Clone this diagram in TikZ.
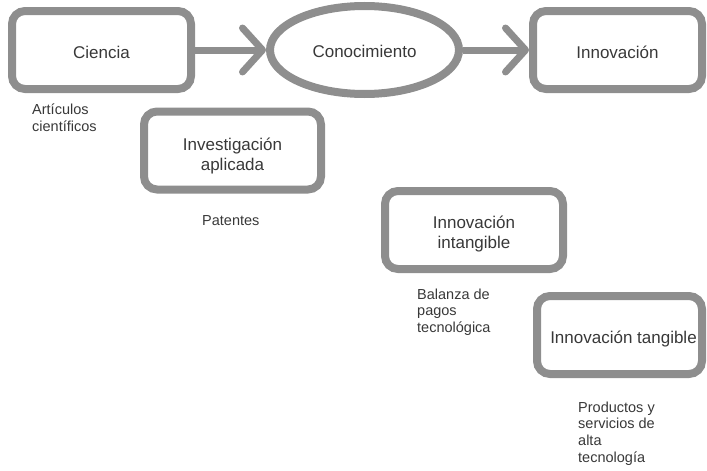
\documentclass[tikz,border=0pt]{standalone}
\usepackage{fontspec}
\setmainfont{Liberation Sans}
\usetikzlibrary{shapes.geometric,arrows.meta}
\definecolor{linegray}{HTML}{8E8E8E}
\definecolor{txt}{HTML}{383838}
\newcommand{\oneline}[2]{\raisebox{-#1pt}[0pt][0pt]{#2}}
\newcommand{\twolines}[3]{\raisebox{#1pt}[0pt][0pt]{\begin{tabular}[t]{@{}c@{}}#2\\#3\end{tabular}}}
\newcommand{\lines}[1]{\begin{tabular}[t]{@{}l@{}}#1\end{tabular}}
\tikzset{
  box/.style={draw=linegray, line width=8pt, rounded corners=13pt, inner sep=0pt,
    minimum height=78pt, text=txt, font=\fontsize{17}{20}\selectfont},
  oval/.style={ellipse, draw=linegray, line width=8pt, inner sep=0pt,
    minimum width=189pt, minimum height=88pt, text=txt, font=\fontsize{17}{20}\selectfont},
  lbl/.style={anchor=base west, inner sep=0pt, text=txt, font=\fontsize{14.5}{16.8}\selectfont},
  flow/.style={draw=linegray, line width=7pt, -{Straight Barb[length=20pt,width=44pt,round]}}
}
\begin{document}
\begin{tikzpicture}[x=1pt,y=-1pt]
\useasboundingbox (0,0) rectangle (707,471);
\node[box, minimum width=179pt] (ciencia) at (101.5,50) {\oneline{8.5}{Ciencia}};
\node[oval] (con) at (364.5,50) {\oneline{7.5}{Conocimiento}};
\node[box, minimum width=169pt] (innov) at (617.5,50) {\oneline{8.5}{Innovación}};
\node[box, minimum width=177pt] (inv) at (232.5,150.5) {\twolines{0.5}{Investigación}{aplicada}};
\node[box, minimum width=178pt] (intang) at (474,230) {\twolines{2}{Innovación}{intangible}};
\node[box, minimum width=165pt] (tang) at (619.5,335) {\oneline{8}{\hspace*{8pt}Innovación tangible}};
\draw[flow] (ciencia.east) -- (con.west);
\draw[flow] (con.east) -- (innov.west);
\node[lbl] (art) at (32,114.5) {\lines{Artículos\\científicos}};
\node[lbl] (pat) at (202,225) {Patentes};
\node[lbl] (bal) at (417,299) {\lines{Balanza de\\pagos\\tecnológica}};
\node[lbl] (prod) at (578,412) {\lines{Productos y\\servicios de\\alta\\tecnología}};
\end{tikzpicture}
\end{document}
